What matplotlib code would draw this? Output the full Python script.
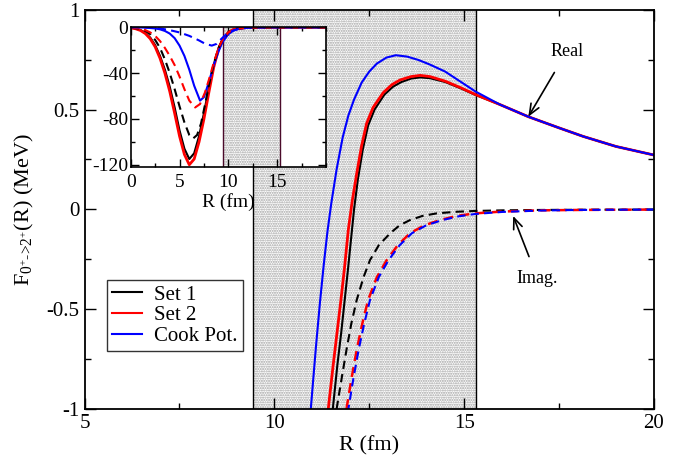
import matplotlib
matplotlib.use("Agg")
import matplotlib.pyplot as plt
from matplotlib.ticker import MultipleLocator

plt.rcParams['font.family'] = ['Liberation Serif', 'DejaVu Serif']
plt.rcParams['mathtext.fontset'] = 'custom'
plt.rcParams['mathtext.rm'] = 'Liberation Serif'
plt.rcParams['mathtext.it'] = 'Liberation Serif:italic'
plt.rcParams['hatch.linewidth'] = 1.0

# ---------------- main plot data (R in fm, F in MeV) ----------------
tail_R = [15.94, 16.69, 17.5, 18.14, 19.0, 20.0]
tail_F = [0.525, 0.464, 0.408, 0.365, 0.315, 0.272]

set1_real_R = [11.54, 11.66, 11.76, 11.85, 11.94, 12.02, 12.10, 12.20, 12.33, 12.47, 12.64, 12.90,
               13.13, 13.35, 13.60, 13.84, 14.10, 14.50, 14.90, 15.30] + tail_R
set1_real_F = [-1.0, -0.78, -0.62, -0.46, -0.30, -0.15, 0.0, 0.15, 0.30, 0.42, 0.50, 0.575,
               0.615, 0.638, 0.655, 0.661, 0.657, 0.638, 0.607, 0.573] + tail_F

set2_real_R = [11.42, 11.55, 11.65, 11.75, 11.85, 11.95, 12.05, 12.17, 12.30, 12.43, 12.60, 12.87,
               13.10, 13.31, 13.60, 13.84, 14.10, 14.50, 14.90, 15.30] + tail_R
set2_real_F = [-1.0, -0.78, -0.62, -0.46, -0.29, -0.10, 0.04, 0.18, 0.32, 0.43, 0.51, 0.585,
               0.625, 0.648, 0.665, 0.671, 0.665, 0.642, 0.610, 0.575] + tail_F

cook_real_R = [10.96, 11.10, 11.20, 11.30, 11.40, 11.50, 11.64, 11.80, 11.95, 12.10, 12.30, 12.50,
               12.70, 12.95, 13.20, 13.50, 13.80, 14.10, 14.50, 14.90, 15.30] + tail_R
cook_real_F = [-1.0, -0.68, -0.47, -0.28, -0.11, 0.03, 0.20, 0.36, 0.47, 0.55, 0.635, 0.69,
               0.73, 0.76, 0.772, 0.765, 0.748, 0.725, 0.69, 0.64, 0.59] + tail_F

set1_imag_R = [11.64, 11.77, 11.90, 12.03, 12.17, 12.35, 12.52, 12.75, 13.05, 13.30, 13.57, 13.90,
               14.28, 14.80, 15.30, 16.0, 17.0, 18.0, 20.0]
set1_imag_F = [-1.0, -0.85, -0.704, -0.57, -0.454, -0.34, -0.254, -0.18, -0.12, -0.08, -0.054, -0.033,
               -0.020, -0.012, -0.008, -0.005, -0.003, -0.002, -0.001]

set2_imag_R = [11.90, 12.03, 12.17, 12.32, 12.47, 12.70, 12.96, 13.25, 13.57, 13.95, 14.36, 14.80,
               15.30, 16.0, 17.0, 18.0, 20.0]
set2_imag_F = [-1.0, -0.85, -0.704, -0.57, -0.454, -0.34, -0.254, -0.18, -0.12, -0.08, -0.054, -0.033,
               -0.020, -0.011, -0.005, -0.003, -0.001]

cook_imag_R = [11.95, 12.08, 12.22, 12.37, 12.52, 12.75, 13.01, 13.30, 13.62, 14.00, 14.42, 14.85,
               15.30, 16.0, 17.0, 18.0, 20.0]
cook_imag_F = [-1.0, -0.85, -0.704, -0.57, -0.454, -0.34, -0.254, -0.18, -0.12, -0.08, -0.054, -0.035,
               -0.023, -0.013, -0.006, -0.003, -0.001]

# ---------------- inset data (R in fm, F in MeV) ----------------
in_set1_real_R = [0, 0.5, 1, 1.5, 2, 2.5, 3, 3.5, 4, 4.5, 5, 5.5, 6.0, 6.5, 7, 7.5, 8, 8.5, 9, 9.4, 10, 10.5, 11, 12, 14, 20]
in_set1_real_F = [-0.4, -1.1, -2.4, -4.9, -9, -15.5, -25, -37, -52, -70, -90, -106, -115, -110, -95, -75, -53, -33, -18, -11, -4.5, -2, -1, -0.2, 0, 0]

in_set2_real_R = [0, 0.5, 1, 1.5, 2, 2.5, 3, 3.5, 4, 4.5, 5, 5.5, 6.0, 6.5, 7, 7.5, 8, 8.5, 9, 9.4, 10, 10.5, 11, 12, 14, 20]
in_set2_real_F = [-0.5, -1.3, -2.8, -5.5, -10, -17, -27, -40, -56, -75, -95, -111, -120, -115, -100, -80, -57, -35, -19, -11, -4.5, -2, -1, -0.2, 0, 0]

in_cook_real_R = [0, 1.5, 2.5, 3, 3.5, 4, 4.5, 5, 5.5, 6, 6.5, 7.1, 7.5, 8, 8.5, 9, 9.4, 10, 10.5, 11, 12, 14, 20]
in_cook_real_F = [0, -0.3, -1, -1.8, -3.2, -5.5, -9.5, -16, -25, -37, -51, -64, -61, -48, -33, -21, -13, -6, -3, -1.5, -0.3, 0, 0]

in_set1_imag_R = [0, 1, 1.5, 2, 2.5, 3, 3.5, 4, 4.5, 5, 5.5, 6, 6.4, 6.8, 7.2, 7.6, 8, 8.5, 9, 9.4, 10, 10.5, 11, 12, 14, 20]
in_set1_imag_F = [-0.2, -1.5, -3, -6, -11, -18, -28, -40, -54, -69, -83, -94, -97, -94, -84, -68, -51, -32, -18, -11, -4.5, -2, -1, -0.3, 0, 0]

in_set2_imag_R = [0, 1, 1.5, 2, 2.5, 3, 3.5, 4, 4.5, 5, 5.5, 6, 6.6, 7.1, 7.6, 8, 8.5, 9, 9.4, 10, 10.5, 11, 12, 14, 20]
in_set2_imag_F = [-0.2, -1.2, -2.5, -4.5, -7.5, -12, -18, -25, -33, -43, -54, -64, -70, -67, -57, -46, -31, -18, -11, -4.5, -2, -1.2, -0.3, 0, 0]

in_cook_imag_R = [0, 2, 3, 4, 5, 6, 7, 7.6, 8.3, 8.8, 9.3, 9.8, 10.5, 11, 12, 14, 20]
in_cook_imag_F = [0, -0.3, -1, -2.5, -4.5, -7.5, -11.5, -14.3, -16, -14.5, -10, -6, -2.8, -1.5, -0.3, 0, 0]

shade_lo, shade_hi = 9.45, 15.3
legend_labels = ['Set 1', 'Set 2', 'Cook Pot.']

fig = plt.figure(figsize=(6.89, 4.61), dpi=100)
ax = fig.add_axes([84.5/689, 1-409/461, (654-84.5)/689, (409-9.7)/461])

ax.axvspan(shade_lo, shade_hi, facecolor='white', hatch='.......', edgecolor='#a0a0a0', linewidth=0, zorder=0)
ax.axvline(shade_lo, color='black', lw=1.0, zorder=1)
ax.axvline(shade_hi, color='black', lw=1.0, zorder=1)

ax.plot(set1_real_R, set1_real_F, color='black', lw=1.5, label=legend_labels[0])
ax.plot(set2_real_R, set2_real_F, color='red', lw=2.0, label=legend_labels[1])
ax.plot(cook_real_R, cook_real_F, color='blue', lw=1.5, label=legend_labels[2])
ax.plot(set1_imag_R, set1_imag_F, color='black', lw=1.5, ls=(0, (4, 2.5)))
ax.plot(set2_imag_R, set2_imag_F, color='red', lw=1.8, ls=(0, (4, 2.5)))
ax.plot(cook_imag_R, cook_imag_F, color='blue', lw=1.5, ls=(2, (4, 2.5)))

ax.set_xlim(5, 20)
ax.set_ylim(-1, 1)
ax.set_xticks([5, 10, 15, 20])
ax.set_xticklabels(['5', '10', '15', '20'])
ax.set_yticks([-1, -0.5, 0, 0.5, 1])
ax.set_yticklabels(['-1', '-0.5', '0', '0.5', '1'])
ax.xaxis.set_minor_locator(MultipleLocator(2.5))
ax.yaxis.set_minor_locator(MultipleLocator(0.25))
ax.tick_params(which='both', direction='in', top=True, right=True, labelsize=15, width=1.0)
ax.tick_params(which='major', length=8)
ax.tick_params(which='minor', length=4)
for s in ax.spines.values():
    s.set_linewidth(1.3)
ax.set_xlabel('R (fm)', fontsize=16, labelpad=2)
ax.set_ylabel(r'F$_{0^{+}\text{->}2^{+}}$(R) (MeV)', fontsize=16, labelpad=8)

leg = ax.legend(loc='lower left', bbox_to_anchor=(0.04, 0.145), fontsize=15, frameon=True,
                fancybox=False, edgecolor='black', handlelength=1.4, handletextpad=0.6,
                labelspacing=0.05, borderpad=0.25, borderaxespad=0)
leg.get_frame().set_linewidth(1.0)
for h in leg.legend_handles:
    h.set_linewidth(1.5)

ax.annotate('Real', xy=(16.69, 0.464), xytext=(17.7, 0.79), fontsize=13, ha='center', va='center',
            arrowprops=dict(arrowstyle='->,head_width=0.25,head_length=0.6', color='black', lw=1.2,
                            shrinkA=8, shrinkB=0))
ax.annotate('Imag.', xy=(16.29, -0.033), xytext=(16.93, -0.345), fontsize=13, ha='center', va='center',
            arrowprops=dict(arrowstyle='->,head_width=0.25,head_length=0.6', color='black', lw=1.2,
                            shrinkA=8, shrinkB=0))

# ---------------- inset ----------------
ins = fig.add_axes([130.7/689, 1-166.7/461, (326-130.7)/689, (166.7-26.7)/461])
ins.set_facecolor('white')
ins.axvspan(shade_lo, shade_hi, facecolor='white', hatch='.......', edgecolor='#a0a0a0', linewidth=0, zorder=0)
ins.axvline(shade_lo, color='#4a0a2a', lw=1.0, zorder=1)
ins.axvline(shade_hi, color='#4a0a2a', lw=1.0, zorder=1)
ins.plot(in_set1_real_R, in_set1_real_F, color='black', lw=1.5)
ins.plot(in_set2_real_R, in_set2_real_F, color='red', lw=2.0)
ins.plot(in_cook_real_R, in_cook_real_F, color='blue', lw=1.5)
ins.plot(in_set1_imag_R, in_set1_imag_F, color='black', lw=1.5, ls=(0, (4, 2.5)))
ins.plot(in_set2_imag_R, in_set2_imag_F, color='red', lw=1.5, ls=(0, (4, 2.5)))
ins.plot(in_cook_imag_R, in_cook_imag_F, color='blue', lw=1.5, ls=(0, (4, 2.5)))
ins.set_xlim(0, 20)
ins.set_ylim(-121.7, 0.5)
ins.set_xticks([0, 5, 10, 15])
ins.set_yticks([0, -40, -80, -120])
ins.set_yticklabels(['0', '-40', '-80', '-120'])
ins.xaxis.set_minor_locator(MultipleLocator(2.5))
ins.yaxis.set_minor_locator(MultipleLocator(20))
ins.tick_params(which='both', direction='in', top=True, right=True, labelsize=14, width=1.0)
ins.tick_params(axis='x', pad=5)
ins.tick_params(axis='y', pad=2)
ins.tick_params(which='major', length=6)
ins.tick_params(which='minor', length=3)
for s in ins.spines.values():
    s.set_linewidth(1.2)
ins.set_xlabel('R (fm)', fontsize=14, labelpad=2)

fig.savefig('out.png', dpi=100)
